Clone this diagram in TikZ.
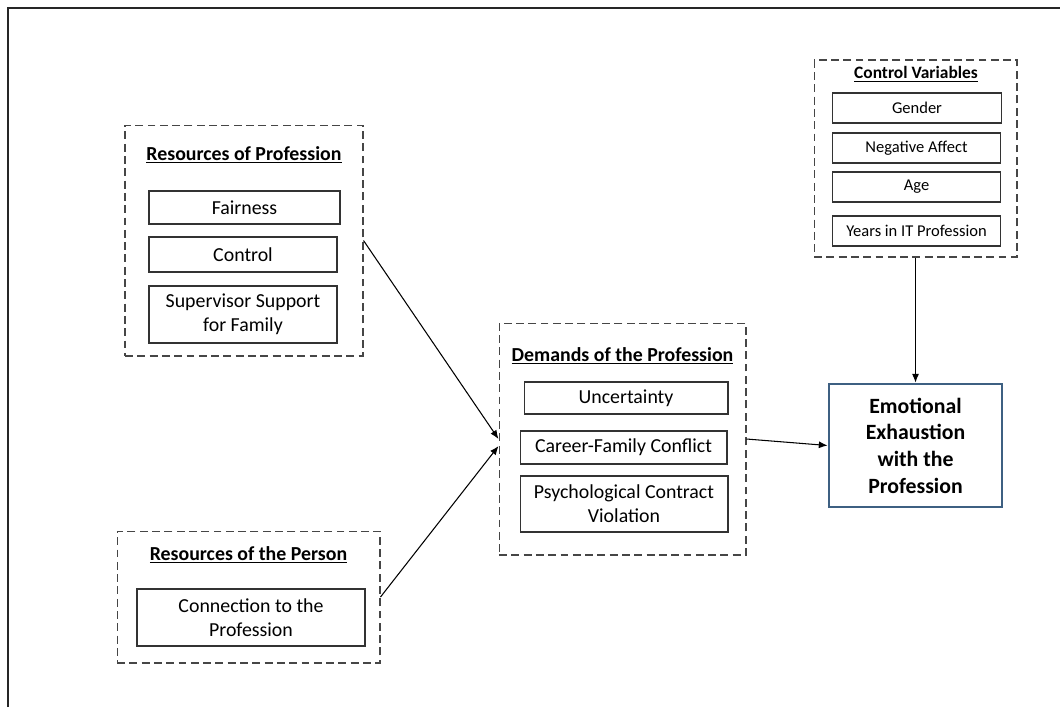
\documentclass[tikz,border=0pt]{standalone}
\usepackage{fontspec}
\setmainfont{Carlito}
\usetikzlibrary{arrows.meta}
\definecolor{eeblue}{RGB}{62,96,130}
\definecolor{framegray}{RGB}{70,70,70}

\begin{document}
\begin{tikzpicture}[
        x=0.02cm, y=-0.02cm,
        group/.style={draw=framegray, line width=0.6pt, dash pattern=on 4.5pt off 2.5pt, inner sep=0pt},
        item/.style={draw=black!80, line width=0.6pt, align=center, inner sep=1pt,
            font=\fontsize{11.3}{13.6}\selectfont},
        smallitem/.style={item, minimum width=3.37cm, minimum height=0.6cm,
            font=\fontsize{9.4}{11}\selectfont},
        heading/.style={font=\bfseries\fontsize{11.3}{13}\selectfont, inner sep=0pt},
        outcome/.style={draw=eeblue, line width=1.6pt, align=center,
            font=\bfseries\fontsize{12.4}{15.2}\selectfont},
        link/.style={-{Latex[length=5pt,width=4pt]}, line width=0.6pt}
    ]
    \useasboundingbox (0,0) rectangle (1060,707);

    % outer frame (right and bottom run off the page)
    \draw[line width=1.4pt, black!85] (8,707) -- (8,8) -- (1060,8);

    % Resources of Profession
    \node[group, minimum width=4.76cm, minimum height=4.62cm] (rp) at (244,240.5) {};
    \node[heading] (rptitle) at (244,155) {\underline{Resources of Profession}};
    \node[item, minimum width=3.82cm, minimum height=0.66cm] (fair) at (244.5,207.5) {Fairness};
    \node[item, minimum width=3.76cm, minimum height=0.7cm] (ctrl) at (243,254.5) {Control};
    \node[item, minimum width=3.76cm, minimum height=1.14cm] (sup) at (243,314.5) {Supervisor Support\\for Family};

    % Resources of the Person
    \node[group, minimum width=5.26cm, minimum height=2.64cm] (rpers) at (248.5,597) {};
    \node[heading] (rperstitle) at (248.5,555) {\underline{Resources of the Person}};
    \node[item, minimum width=4.56cm, minimum height=1.14cm] (conn) at (251,617.5) {Connection to the\\Profession};

    % Demands of the Profession
    \node[group, minimum width=4.94cm, minimum height=4.64cm] (dem) at (622.5,439) {};
    \node[heading] (demtitle) at (622.5,356) {\underline{Demands of the Profession}};
    \node[item, minimum width=4.08cm, minimum height=0.64cm] (unc) at (626,398) {Uncertainty};
    \node[item, minimum width=4.14cm, minimum height=0.66cm] (cfc) at (623.5,447.5) {Career-Family Conflict};
    \node[item, minimum width=4.16cm, minimum height=1.12cm] (pcv) at (624,504) {Psychological Contract\\Violation};

    % Control Variables
    \node[group, minimum width=4.06cm, minimum height=3.94cm] (cv) at (915.5,158.5) {};
    \node[heading, font=\bfseries\fontsize{9.9}{11}\selectfont] (cvtitle) at (916,74) {\underline{Control Variables}};
    \node[smallitem] (gen) at (917,108) {Gender};
    \node[smallitem] (neg) at (916.5,148) {Negative Affect};
    \node[smallitem] (age) at (916.5,187) {Age};
    \node[smallitem] (yrs) at (916.5,231) {Years in IT Profession};

    % Outcome
    \node[outcome, minimum width=3.46cm, minimum height=2.46cm] (ee) at (915.5,445.5) {Emotional\\Exhaustion\\with the\\Profession};

    % Paths
    \draw[link] (rp.east) -- (dem.west);
    \draw[link] (rpers.east) -- ([yshift=-4pt]dem.west);
    \draw[link] (dem.east) -- (ee.west);
    \draw[link] (cv.south) -- (ee.north);
\end{tikzpicture}
\end{document}
